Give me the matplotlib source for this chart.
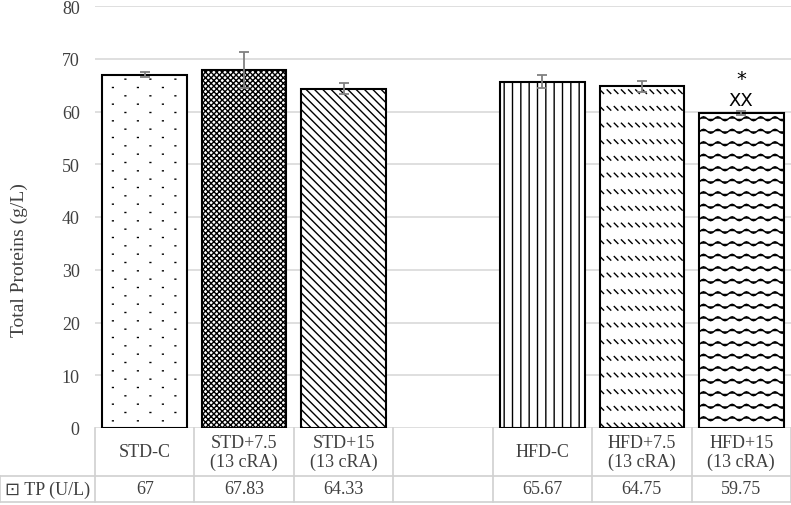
import numpy as np
import matplotlib.pyplot as plt
import matplotlib.transforms as mtransforms
from matplotlib import hatch as mhatch
from matplotlib.path import Path

plt.rcParams['font.family'] = ['Liberation Serif', 'DejaVu Sans']
plt.rcParams['hatch.linewidth'] = 1.0

categories = ["STD-C", "STD+7.5\n(13 cRA)", "STD+15\n(13 cRA)", "",
              "HFD-C", "HFD+7.5\n(13 cRA)", "HFD+15\n(13 cRA)"]
tp_values = [67, 67.83, 64.33, np.nan, 65.67, 64.75, 59.75]
tp_labels = ["67", "67.83", "64.33", "", "65.67", "64.75", "59.75"]
tp_errors = [0.45, 3.45, 1.05, np.nan, 1.2, 1.1, 0.4]
hatches = [":", "xxxxxx", "\\\\\\\\", "", "||", "^", "~"]
row_label = "\u22a1 TP (U/L)"


# extra hatch patterns: ':' small sparse dots, '~' wavy rows,
# '^' rows of short slanted dashes
class DotHatch(mhatch.HatchPatternBase):
    rows, cols = 12, 4

    def __init__(self, hatch, density):
        self.on = ':' in hatch
        self.num_vertices = self.rows * self.cols * 2 if self.on else 0

    def set_vertices_and_codes(self, vertices, codes):
        k = 0
        for i in range(self.rows):
            y0 = (i + 0.5) / self.rows
            shift = 0.5 / self.cols if i % 2 else 0
            for j in range(self.cols):
                x0 = j / self.cols + shift
                vertices[k] = (x0, y0)
                vertices[k + 1] = (x0 + 0.008, y0)
                codes[k] = Path.MOVETO
                codes[k + 1] = Path.LINETO
                k += 2


class WaveHatch(mhatch.HatchPatternBase):
    rows, periods, steps = 8, 7, 56

    def __init__(self, hatch, density):
        self.on = '~' in hatch
        self.num_vertices = self.rows * (self.steps + 1) if self.on else 0

    def set_vertices_and_codes(self, vertices, codes):
        xs = np.linspace(0, 1, self.steps + 1)
        n = self.steps + 1
        for i in range(self.rows):
            y0 = (i + 0.5) / self.rows
            vertices[i * n:(i + 1) * n, 0] = xs
            vertices[i * n:(i + 1) * n, 1] = y0 + 0.02 * np.sin(2 * np.pi * self.periods * xs)
            codes[i * n] = Path.MOVETO
            codes[i * n + 1:(i + 1) * n] = Path.LINETO


class DashHatch(mhatch.HatchPatternBase):
    rows, per_row = 6, 14

    def __init__(self, hatch, density):
        self.on = '^' in hatch
        self.num_vertices = self.rows * self.per_row * 2 if self.on else 0

    def set_vertices_and_codes(self, vertices, codes):
        k = 0
        for i in range(self.rows):
            y0 = (i + 0.5) / self.rows
            for j in range(self.per_row):
                x0 = j / self.per_row
                vertices[k] = (x0, y0 + 0.018)
                vertices[k + 1] = (x0 + 0.036, y0 - 0.018)
                codes[k] = Path.MOVETO
                codes[k + 1] = Path.LINETO
                k += 2


mhatch._hatch_types.extend([DotHatch, WaveHatch, DashHatch])

fig = plt.figure(figsize=(7.91, 5.06), dpi=100)
ax = fig.add_axes([95 / 791, 77 / 506, 696 / 791, 422 / 506])

x = np.arange(len(categories))
for i in range(len(categories)):
    if np.isnan(tp_values[i]):
        continue
    ax.bar(x[i], tp_values[i], width=0.85, color="white", edgecolor="black",
           linewidth=1.5, hatch=hatches[i], zorder=3)
    ax.errorbar(x[i], tp_values[i], yerr=tp_errors[i], color="#808080",
                capsize=3.5, elinewidth=1.3, capthick=1.3, zorder=4)

# significance marks on HFD+15
top = tp_values[6] + tp_errors[6]
ax.annotate("XX", (x[6], top), xytext=(0, 1.5), textcoords="offset points",
            ha="center", va="bottom", fontsize=13, family="DejaVu Sans")
ax.annotate("*", (x[6], top), xytext=(0, 16.5), textcoords="offset points",
            ha="center", va="bottom", fontsize=14, family="DejaVu Sans")

ax.set_xlim(-0.5, len(categories) - 0.5)
ax.set_ylim(0, 80)
ax.set_yticks(np.arange(0, 81, 10))
ax.tick_params(axis="y", length=0, labelsize=13, colors="#404040", pad=11)
ax.set_xticks([])
ax.yaxis.grid(True, color="#d9d9d9", linewidth=1.2, zorder=0)
for s in ax.spines.values():
    s.set_visible(False)
ax.set_ylabel("Total Proteins (g/L)", fontsize=14, color="#404040")
ax.yaxis.set_label_coords(-0.096, 0.4)

# data table under the plot (x in data units, y in axes fraction)
trans = mtransforms.blended_transform_factory(ax.transData, ax.transAxes)
h1, h2 = 48 / 422, 26 / 422
label_left = -0.5 - 95 / (696 / len(categories))
edges = np.arange(len(categories) + 1) - 0.5
line_kw = dict(color="#d0d0d0", linewidth=1.2, transform=trans, clip_on=False)
for e in edges:
    ax.plot([e, e], [0, -h1 - h2], **line_kw)
ax.plot([label_left, label_left], [-h1, -h1 - h2], **line_kw)
ax.plot([label_left, edges[-1]], [-h1, -h1], **line_kw)
ax.plot([label_left, edges[-1]], [-h1 - h2, -h1 - h2], **line_kw)

for i, name in enumerate(categories):
    ax.text(x[i], -h1 / 2, name, transform=trans, ha="center", va="center",
            fontsize=13, color="#404040", linespacing=1.15)
    ax.text(x[i], -h1 - h2 / 2, tp_labels[i], transform=trans, ha="center",
            va="center", fontsize=13, color="#404040")
ax.text((label_left - 0.5) / 2, -h1 - h2 / 2, row_label, transform=trans,
        ha="center", va="center", fontsize=13, color="#404040")

fig.savefig("out.png", dpi=100)
